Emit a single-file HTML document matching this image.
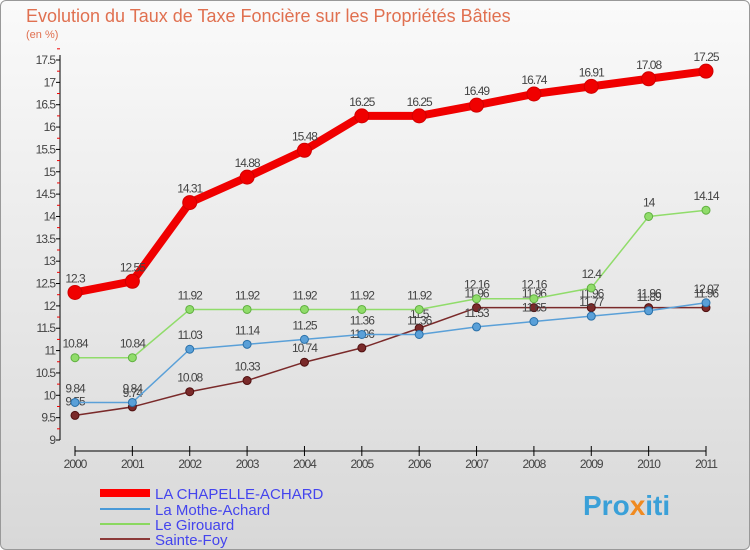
<!DOCTYPE html>
<html><head><meta charset="utf-8"><style>
body{margin:0;width:750px;height:550px;overflow:hidden;font-family:"Liberation Sans",sans-serif}
#wrap{position:absolute;left:0;top:0;width:748px;height:548px;border:1px solid #999;border-radius:6px;background:linear-gradient(#fafafa,#d8d8d8)}
</style></head><body>
<div id="wrap"></div>
<svg id="chart" width="750" height="550" style="position:absolute;left:0;top:0">
<text x="26" y="22" font-size="18" fill="#e07050">Evolution du Taux de Taxe Foncière sur les Propriétés Bâties</text>
<text x="26" y="38" font-size="11" fill="#e07050">(en %)</text>
<g id="axes"></g><g id="series"></g>
<g>
<line x1="100" y1="493" x2="150" y2="493" stroke="#f00" stroke-width="8"/>
<text x="155" y="499" font-size="15" fill="#4444ee">LA CHAPELLE-ACHARD</text>
<line x1="100" y1="509" x2="150" y2="509" stroke="#4a9ad8" stroke-width="2"/>
<text x="155" y="515" font-size="15" fill="#4444ee">La Mothe-Achard</text>
<line x1="100" y1="524" x2="150" y2="524" stroke="#8ad860" stroke-width="2"/>
<text x="155" y="530" font-size="15" fill="#4444ee">Le Girouard</text>
<line x1="100" y1="539" x2="150" y2="539" stroke="#8b3a3a" stroke-width="2"/>
<text x="155" y="545" font-size="15" fill="#4444ee">Sainte-Foy</text>
</g>
<text x="583" y="515" font-size="28" font-weight="bold" fill="#3aa0d8">Pro<tspan fill="#f08a20">x</tspan>iti</text>
</svg>
<script>
const years=[2000,2001,2002,2003,2004,2005,2006,2007,2008,2009,2010,2011];
const yTicks=[9,9.5,10,10.5,11,11.5,12,12.5,13,13.5,14,14.5,15,15.5,16,16.5,17,17.5];
const chapelle=[12.3,12.55,14.31,14.88,15.48,16.25,16.25,16.49,16.74,16.91,17.08,17.25];
const mothe=[9.84,9.84,11.03,11.14,11.25,11.36,11.36,11.53,11.65,11.77,11.89,12.07];
const girouard=[10.84,10.84,11.92,11.92,11.92,11.92,11.92,12.16,12.16,12.4,14,14.14];
const sainteFoy=[9.55,9.74,10.08,10.33,10.74,11.06,11.5,11.96,11.96,11.96,11.96,11.96];
const NS="http://www.w3.org/2000/svg";
const X=i=>75+i*(706-75)/11;
const Y=v=>440-(v-9)*(380/8.5);
function mk(t,a,p){const e=document.createElementNS(NS,t);for(const k in a)e.setAttribute(k,a[k]);p.appendChild(e);return e;}
const ax=document.getElementById('axes');
const yl=mk('line',{x1:60,y1:55,x2:60,y2:440,stroke:'#000'},ax);


yTicks.forEach(v=>{
 const t=mk('line',{x1:56,y1:Y(v),x2:60,y2:Y(v),stroke:'#000'},ax);
 
 
 const m=mk('line',{x1:57,y1:Y(v+0.25),x2:60,y2:Y(v+0.25),stroke:'#e00'},ax);
 
 
 const l=mk('text',{x:55,y:Y(v)+4,'font-size':12,'text-anchor':'end',fill:'#444','letter-spacing':'-1'},ax);
 l.textContent=v;
 
 
});
const xl=mk('line',{x1:X(0),y1:451,x2:X(11),y2:451,stroke:'#000'},ax);


years.forEach((y,i)=>{
 const t=mk('line',{x1:X(i),y1:446,x2:X(i),y2:456,stroke:'#000'},ax);
 
 
 const l=mk('text',{x:X(i),y:468,'font-size':12,'text-anchor':'middle',fill:'#444','letter-spacing':'-1'},ax);
 l.textContent=y;
 
 
});
const sg=document.getElementById('series');
function draw(vals,color,w,r,name,dark){
 const g=mk('g',{},sg);
 
 
 const p=mk('polyline',{points:vals.map((v,i)=>X(i)+','+Y(v)).join(' '),fill:'none',stroke:color,'stroke-width':w,'stroke-linejoin':'round'},g);
 
 
 vals.forEach((v,i)=>{
  const c=mk('circle',{cx:X(i),cy:Y(v),r:r,fill:color,stroke:dark,'stroke-width':1},g);
  
  
  const t=mk('text',{x:X(i),y:Y(v)-10,'font-size':12,'text-anchor':'middle',fill:'#444','letter-spacing':'-1'},g);
  t.textContent=v;
  
  
 });
}
draw(sainteFoy,'#7a2a2a',1.5,4,'sainte-foy','#501010');
draw(mothe,'#5aa0d8',1.5,4,'mothe','#2a70a8');
draw(girouard,'#90dc6a',1.5,4,'girouard','#60b040');
draw(chapelle,'#f00000',8,7,'chapelle','#d00000');
</script>
</body></html>
